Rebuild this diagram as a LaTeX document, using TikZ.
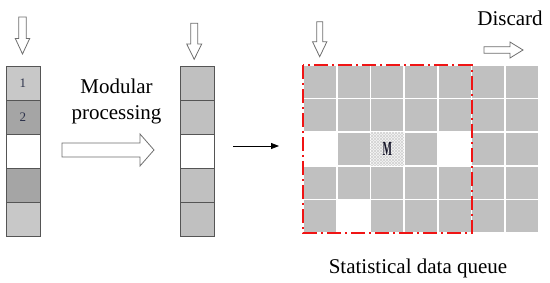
\documentclass[tikz,border=0pt]{standalone}
\usepackage{fontspec}
\setmainfont{Liberation Serif}
\newfontfamily\tnr{Liberation Serif}
\usetikzlibrary{patterns,arrows.meta}
\definecolor{cellgray}{RGB}{192,192,192}
\definecolor{lightcell}{RGB}{200,200,200}
\definecolor{darkcell}{RGB}{165,165,165}
\definecolor{edgegray}{RGB}{85,85,85}
\definecolor{hollowline}{RGB}{110,110,110}
\definecolor{digitcol}{RGB}{45,50,75}
\definecolor{mred}{RGB}{240,20,20}
\tikzset{
  colcell/.style={draw=edgegray, line width=0.9pt, minimum width=34pt, minimum height=34pt, inner sep=0pt, outer sep=0pt},
  gridcell/.style={draw=white, line width=1.6pt, fill=cellgray, minimum width=33.71pt, minimum height=33.6pt, inner sep=0pt, outer sep=0pt},
  hollow/.style={draw=hollowline, line width=0.8pt, fill=white, line join=miter},
  bigtext/.style={font=\tnr\fontsize{21}{25}\selectfont, inner sep=0pt, anchor=base},
  digit/.style={font=\tnr\fontsize{13}{15}\selectfont, text=digitcol},
}
\begin{document}
\begin{tikzpicture}[x=1pt,y=-1pt]
\useasboundingbox (0,0) rectangle (550,283);

% left column
\node[colcell, fill=lightcell, digit] (l1) at (23,83) {1};
\node[colcell, fill=darkcell, digit] (l2) at (23,117) {2};
\node[colcell, fill=white] (l3) at (23,151) {};
\node[colcell, fill=darkcell] (l4) at (23,185) {};
\node[colcell, fill=lightcell] (l5) at (23,219) {};

% middle column
\foreach \i/\y/\f in {1/83/cellgray,2/117/cellgray,3/151/white,4/185/cellgray,5/219/cellgray}
  \node[colcell, fill=\f] (m\i) at (197,\y) {};

% grid 7x5
\foreach \r in {1,...,5}
  \foreach \c in {1,...,7}
    \node[gridcell] (g\r\c) at ({303+(\c-0.5)*33.71},{65+(\r-0.5)*33.6}) {};
\node[gridcell, fill=white] at (g31) {};
\node[gridcell, fill=white] at (g35) {};
\node[gridcell, fill=white] at (g52) {};
\node[gridcell, fill=gray!8, postaction={pattern=north east lines, pattern color=gray!35}, postaction={pattern=north west lines, pattern color=gray!35}] (mcell) at (g33) {};
\node[text={rgb,255:red,20;green,20;blue,40}, font=\tnr\bfseries\fontsize{20}{20}\selectfont] at (mcell) {\scalebox{0.5}[1]{M}};

% red dash-dot frame
\draw[mred, line width=2pt, dash pattern=on 14pt off 4pt on 2pt off 4pt]
  (g11.north west) rectangle (g55.south east);

% hollow down arrows
\draw[hollow] (18.7,17) -- (26.3,17) -- (26.3,38.5) -- (29.7,38.5) -- (22.5,54) -- (15.3,38.5) -- (18.7,38.5) -- cycle;
\draw[hollow] (190.7,23.3) -- (197.7,23.3) -- (197.7,44) -- (201.7,44) -- (194.2,59.3) -- (186.7,44) -- (190.7,44) -- cycle;
\draw[hollow] (316.7,21.7) -- (322.7,21.7) -- (322.7,41.7) -- (326.9,41.7) -- (319.7,56.7) -- (312.5,41.7) -- (316.7,41.7) -- cycle;

% big hollow right arrow
\draw[hollow] (62,143) -- (140,143) -- (140,134) -- (154,150) -- (140,166) -- (140,157) -- (62,157) -- cycle;

% discard arrow
\draw[hollow] (484,46.7) -- (510,46.7) -- (510,42) -- (523,50) -- (510,58) -- (510,53.3) -- (484,53.3) -- cycle;

% black arrow
\coordinate (ba) at ([xshift=19pt,yshift=5pt]m3.east);
\coordinate (bb) at (ba -| g31.west);
\draw[line width=0.8pt, -{Triangle[length=8pt,width=6pt]}] (ba) -- ([xshift=-24pt]bb);

% texts
\node[bigtext] (t1) at (116.5,94) {Modular};
\node[bigtext] (t2) at (116.5,119.5) {processing};
\node[bigtext] (t3) at (510,26) {Discard};
\node[bigtext] (t4) at (418,273.3) {Statistical data queue};
\end{tikzpicture}
\end{document}
